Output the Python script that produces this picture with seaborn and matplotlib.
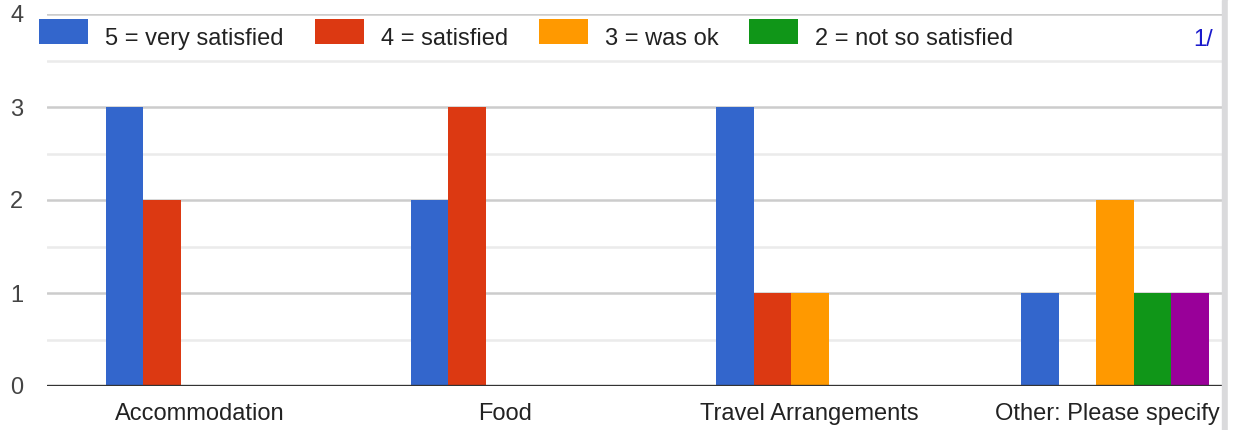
import seaborn as sns
import matplotlib.pyplot as plt
import matplotlib.transforms as mtransforms
from matplotlib.patches import Rectangle
from matplotlib.ticker import MultipleLocator
import pandas as pd

categories = ["Accommodation", "Food", "Travel Arrangements", "Other: Please specify"]
ratings = ["5 = very satisfied", "4 = satisfied", "3 = was ok",
           "2 = not so satisfied", "1 = not at all satisfied"]
very_satisfied = [3, 2, 3, 1]
satisfied = [2, 3, 1, 0]
was_ok = [0, 0, 1, 2]
not_so_satisfied = [0, 0, 0, 1]
not_at_all = [0, 0, 0, 1]
colors = ["#3366cc", "#dc3912", "#ff9900", "#109618", "#990099"]

rows = []
for rating, vals in zip(ratings, [very_satisfied, satisfied, was_ok, not_so_satisfied, not_at_all]):
    for cat, v in zip(categories, vals):
        rows.append({"Aspect": cat, "Rating": rating, "Count": v})
df = pd.DataFrame(rows)

sns.set_style("white")
plt.rcParams["font.family"] = ["Liberation Sans", "DejaVu Sans"]

W, H = 1235, 430
fig = plt.figure(figsize=(W / 100, H / 100), dpi=100)
ax = fig.add_axes([47 / W, 44 / H, 1220.5 / W, 372 / H])

sns.barplot(data=df, x="Aspect", y="Count", hue="Rating", hue_order=ratings,
            order=categories, palette=colors, width=0.615, gap=0,
            saturation=1, linewidth=0, ax=ax)

ax.set_xlim(-0.5, 3.5)
ax.set_ylim(0, 4)
ax.set_yticks([0, 1, 2, 3, 4])
ax.yaxis.set_minor_locator(MultipleLocator(0.5))
ax.set_axisbelow(True)
ax.grid(which="major", axis="y", color="#cccccc", lw=1.8)
ax.grid(which="minor", axis="y", color="#ebebeb", lw=1.8)
ax.axhline(0, color="#333333", lw=2.4, zorder=5)
for s in ax.spines.values():
    s.set_visible(False)
ax.tick_params(which="both", length=0)
ax.tick_params(axis="y", labelsize=17, labelcolor="#444444", pad=17)
ax.tick_params(axis="x", labelsize=17, labelcolor="#222222", pad=12.5)
ax.set_xlabel("")
ax.set_ylabel("")

# last category label sits a little left in the original
lbl = ax.get_xticklabels()[-1]
lbl.set_transform(lbl.get_transform() + mtransforms.ScaledTranslation(-8 / 100, 0, fig.dpi_scale_trans))

handles, labels = ax.get_legend_handles_labels()
ax.get_legend().remove()
leg = fig.legend(handles[:4], labels[:4], loc="upper left", ncol=4, frameon=False,
                 bbox_to_anchor=(39 / W, 1 - 19 / H), borderpad=0, borderaxespad=0,
                 fontsize=17, handlelength=2.08, handleheight=1.22, handletextpad=0.72,
                 columnspacing=1.31, labelcolor="#222222")
# legend text sits lower than the swatches in the original
for t in leg.get_texts():
    t.set_transform(t.get_transform() + mtransforms.ScaledTranslation(0, -6 / 100, fig.dpi_scale_trans))

fig.text(1213 / W, 1 - 40 / H, "1/", ha="right", va="center", fontsize=17, color="#1a1acc")

fig.patches.append(Rectangle((1222 / W, 0), 6 / W, 1, transform=fig.transFigure,
                             color="#dadadc", zorder=5))
fig.patches.append(Rectangle((1228 / W, 0), 7 / W, 1, transform=fig.transFigure,
                             color="white", zorder=5))

fig.savefig("out.png", dpi=100)
